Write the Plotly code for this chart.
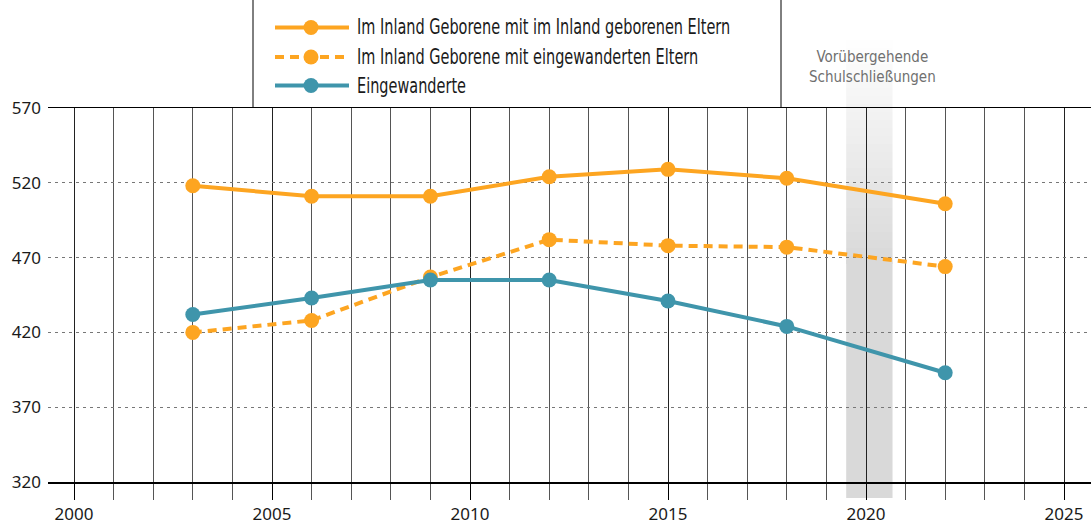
import plotly.graph_objects as go

# ---- data ----
years = [2003, 2006, 2009, 2012, 2015, 2018, 2022]
native_native = [518, 511, 511, 524, 529, 523, 506]
native_immigrant = [420, 428, 457, 482, 478, 477, 464]
immigrants = [432, 443, 455, 455, 441, 424, 393]
series_names = [
    "Im Inland Geborene mit im Inland geborenen Eltern",
    "Im Inland Geborene mit eingewanderten Eltern",
    "Eingewanderte",
]
closure_start, closure_end = 2019.5, 2020.67
closure_label = "Vorübergehende<br>Schulschließungen"
y_ticks = [320, 370, 420, 470, 520, 570]
x_major_ticks = [2000, 2005, 2010, 2015, 2020, 2025]

ORANGE = "#FDA521"
TEAL = "#3F95AB"
NARROW = "Liberation Sans Narrow, DejaVu Sans Condensed, sans-serif"

W, H = 1091, 526
L, R, T, B = 48, 0, 108, 44
PW, PH = W - L - R, H - T - B
px_per_year = 39.6
xmin = 2000 - (74 - L) / px_per_year
xmax = xmin + PW / px_per_year


def px_x(p):
    return (p - L) / PW


def px_y(p):
    return (H - B - p) / PH


def yr_x(yr):
    return (yr - xmin) / (xmax - xmin)


fig = go.Figure()
styles = [
    (native_native, ORANGE, "solid"),
    (native_immigrant, ORANGE, "9px,6px"),
    (immigrants, TEAL, "solid"),
]
for (vals, col, dash), name in zip(styles, series_names):
    fig.add_trace(go.Scatter(
        x=years, y=vals, name=name, mode="lines+markers",
        line=dict(color=col, width=4, dash=dash),
        marker=dict(color=col, size=15),
        showlegend=False, hoverinfo="skip",
    ))

shapes = []
# gradient band (school closures)
top_px, full_px, bottom_px = 40, 260, 498
step = 8
y = top_px
while y < full_px:
    f = (y + step / 2 - top_px) / (full_px - top_px)
    c = int(round(255 - f * 38))
    shapes.append(dict(type="rect", xref="paper", yref="paper",
                       x0=yr_x(closure_start), x1=yr_x(closure_end),
                       y0=px_y(y + step), y1=px_y(y),
                       fillcolor=f"rgb({c},{c},{c})", line=dict(width=0),
                       layer="below"))
    y += step
shapes.append(dict(type="rect", xref="paper", yref="paper",
                   x0=yr_x(closure_start), x1=yr_x(closure_end),
                   y0=px_y(bottom_px), y1=px_y(full_px),
                   fillcolor="rgb(217,217,217)", line=dict(width=0),
                   layer="below"))

# legend box sides
for xp in (253, 781):
    shapes.append(dict(type="line", xref="paper", yref="paper",
                       x0=px_x(xp), x1=px_x(xp), y0=px_y(0), y1=px_y(T),
                       line=dict(color="black", width=1)))

# manual legend
leg_rows = [27.5, 57, 85.5]
annotations = []
for (vals, col, dash), name, ry in zip(styles, series_names, leg_rows):
    shapes.append(dict(type="line", xref="paper", yref="paper",
                       x0=px_x(275), x1=px_x(349), y0=px_y(ry), y1=px_y(ry),
                       line=dict(color=col, width=4, dash=dash)))
    shapes.append(dict(type="circle", xref="paper", yref="paper",
                       xsizemode="pixel", ysizemode="pixel",
                       xanchor=px_x(311), yanchor=px_y(ry),
                       x0=-7.5, x1=7.5, y0=-7.5, y1=7.5,
                       fillcolor=col, line=dict(width=0)))
    annotations.append(dict(xref="paper", yref="paper", x=px_x(355), y=px_y(ry),
                            xanchor="left", yanchor="middle", showarrow=False,
                            text=name,
                            font=dict(family=NARROW, size=20.5, color="#1a1a1a")))

annotations.append(dict(xref="paper", yref="paper", x=px_x(872), y=px_y(67),
                        xanchor="center", yanchor="middle", showarrow=False,
                        text=closure_label, align="center",
                        font=dict(family=NARROW, size=15, color="#707070")))

fig.update_layout(
    width=W, height=H,
    margin=dict(l=L, r=R, t=T, b=B, pad=0),
    paper_bgcolor="white", plot_bgcolor="rgba(0,0,0,0)",
    showlegend=False,
    shapes=shapes, annotations=annotations,
    font=dict(family="Noto Sans, Open Sans, sans-serif", size=17, color="#1a1a1a"),
)
fig.update_xaxes(
    range=[xmin, xmax], tickvals=x_major_ticks, ticktext=[str(v) for v in x_major_ticks],
    ticks="outside", ticklen=16, tickcolor="black", tickwidth=1,
    showgrid=True, gridcolor="#222", gridwidth=1,
    showline=True, linecolor="black", linewidth=1.5, mirror=True,
    minor=dict(dtick=1, tick0=2000, ticks="outside", ticklen=16, tickcolor="#555",
               showgrid=True, gridcolor="#555", gridwidth=1),
    zeroline=False, fixedrange=True,
)
fig.update_yaxes(
    range=[320, 570], tickvals=y_ticks, ticks="",
    showgrid=True, gridcolor="#777", gridwidth=1, griddash="3px,4px",
    showline=False, zeroline=False, ticklabelstandoff=6, fixedrange=True,
)

post = """
document.body.style.margin = '0';
document.body.style.overflow = 'hidden';
var gd = document.getElementById('{plot_id}');
gd.querySelectorAll('text.annotation-text').forEach(function (t) {
  if (t.textContent.indexOf('Vorüber') >= 0) { return; }
  var w = t.getComputedTextLength();
  var x = parseFloat(t.getAttribute('x'));
  var anchor = t.getAttribute('text-anchor') || 'start';
  var left = anchor === 'middle' ? x - w / 2 : (anchor === 'end' ? x - w : x);
  t.setAttribute('x', left);
  t.style.textAnchor = 'start';
  t.setAttribute('text-anchor', 'start');
  t.setAttribute('textLength', (w * 0.785).toFixed(1));
  t.setAttribute('lengthAdjust', 'spacingAndGlyphs');
});
"""

fig.write_html("out.html", post_script=post,
               config={"displayModeBar": False, "staticPlot": True})
